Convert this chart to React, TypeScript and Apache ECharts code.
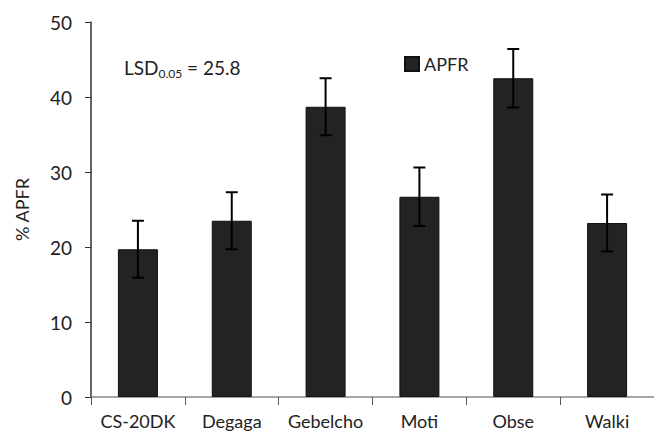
import React, { useEffect, useRef } from "react";
import * as echarts from "echarts";

const categories = ["CS-20DK", "Degaga", "Gebelcho", "Moti", "Obse", "Walki"];
const apfr = [19.7, 23.5, 38.7, 26.7, 42.5, 23.2];
const errors = [3.8, 3.8, 3.8, 3.9, 3.9, 3.8];
const yTicks = [0, 10, 20, 30, 40, 50];

const FONT = "Lato, 'Open Sans', sans-serif";

export default function App() {
  const ref = useRef<HTMLDivElement>(null);
  useEffect(() => {
    if (!ref.current) return;
    const chart = echarts.init(ref.current, undefined, { renderer: "svg" });
    const errData = apfr.map((v, i) => [i, v - errors[i], v + errors[i]]);
    chart.setOption({
      animation: false,
      backgroundColor: "#fff",
      grid: { left: 91, right: -23, top: 22, bottom: 36, containLabel: false },
      legend: {
        data: [{ name: "APFR", icon: "rect" }],
        left: 399,
        top: 50,
        itemWidth: 14,
        itemHeight: 14,
        itemGap: 4,
        textStyle: { fontFamily: FONT, fontSize: 18, color: "#222" },
      },
      xAxis: {
        type: "category",
        data: categories,
        axisLine: { lineStyle: { color: "#888", width: 1.5 } },
        axisTick: { show: true, length: 8, lineStyle: { color: "#555" }, alignWithLabel: false },
        axisLabel: { fontFamily: FONT, fontSize: 18, color: "#222", margin: 15, interval: 0 },
      },
      yAxis: {
        type: "value",
        min: 0,
        max: 50,
        interval: 10,
        name: "% APFR",
        nameLocation: "middle",
        nameGap: 60,
        nameTextStyle: { fontFamily: FONT, fontSize: 18, color: "#222" },
        axisLine: { show: true, lineStyle: { color: "#333", width: 1.5 } },
        axisTick: { show: true, length: 6, lineStyle: { color: "#333" } },
        axisLabel: {
          fontFamily: FONT,
          fontSize: 19,
          color: "#222",
          margin: 19,
          formatter: (v: number) => (yTicks.includes(v) ? String(v) : ""),
        },
        splitLine: { show: false },
      },
      graphic: [
        {
          type: "text",
          left: 124,
          top: 58,
          style: {
            text: "{a|LSD}{b|0.05}{a| = 25.8}",
            rich: {
              a: { fontFamily: FONT, fontSize: 19, fill: "#222" },
              b: { fontFamily: FONT, fontSize: 12, fill: "#222", padding: [11, 0, 0, 0] },
            },
          },
        },
      ],
      series: [
        {
          name: "APFR",
          type: "bar",
          data: apfr,
          barWidth: 40,
          itemStyle: { color: "#232323", borderColor: "#111", borderWidth: 1 },
        },
        {
          name: "err",
          type: "custom",
          data: errData,
          z: 10,
          renderItem: (params: any, api: any) => {
            const x = api.value(0);
            const lo = api.coord([x, api.value(1)]);
            const hi = api.coord([x, api.value(2)]);
            const hw = 6;
            const style = { stroke: "#000", lineWidth: 2 };
            return {
              type: "group",
              children: [
                { type: "line", shape: { x1: lo[0], y1: lo[1], x2: hi[0], y2: hi[1] }, style },
                { type: "line", shape: { x1: hi[0] - hw, y1: hi[1], x2: hi[0] + hw, y2: hi[1] }, style },
                { type: "line", shape: { x1: lo[0] - hw, y1: lo[1], x2: lo[0] + hw, y2: lo[1] }, style },
              ],
            };
          },
        },
      ],
    });
    return () => chart.dispose();
  }, []);
  return <div ref={ref} style={{ width: 654, height: 433, position: "absolute", left: 0, top: 0 }} />;
}
